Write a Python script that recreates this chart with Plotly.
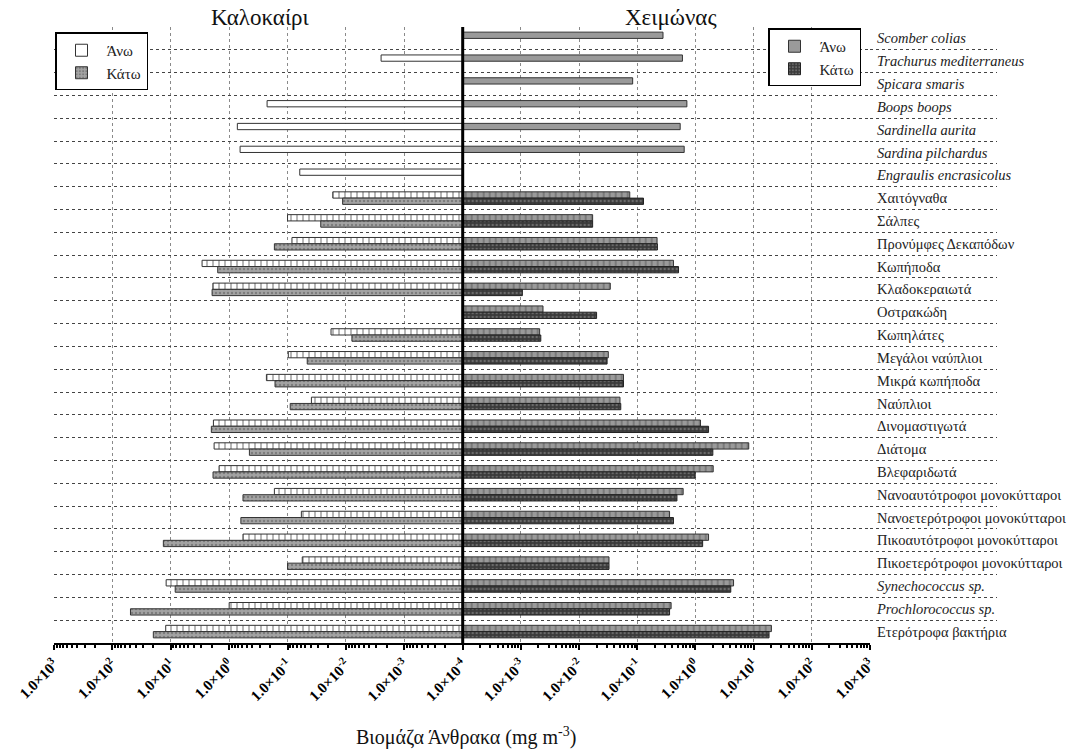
import plotly.graph_objects as go

# Categories, top to bottom
categories = [
    "Scomber colias", "Trachurus mediterraneus", "Spicara smaris", "Boops boops",
    "Sardinella aurita", "Sardina pilchardus", "Engraulis encrasicolus",
    "Χαιτόγναθα", "Σάλπες", "Προνύμφες Δεκαπόδων", "Κωπήποδα", "Κλαδοκεραιωτά",
    "Οστρακώδη", "Κωπηλάτες", "Μεγάλοι ναύπλιοι", "Μικρά κωπήποδα", "Ναύπλιοι",
    "Δινομαστιγωτά", "Διάτομα", "Βλεφαριδωτά",
    "Νανοαυτότροφοι μονοκύτταροι", "Νανοετερότροφοι μονοκύτταροι",
    "Πικοαυτότροφοι μονοκύτταροι", "Πικοετερότροφοι μονοκύτταροι",
    "Synechococcus sp.", "Prochlorococcus sp.", "Ετερότροφα βακτήρια",
]
italic_names = {
    "Scomber colias", "Trachurus mediterraneus", "Spicara smaris", "Boops boops",
    "Sardinella aurita", "Sardina pilchardus", "Engraulis encrasicolus",
    "Synechococcus sp.", "Prochlorococcus sp.",
}
fish = categories[:7]

# Carbon biomass (mg m^-3)
summer_upper = [None, 0.0025, None, 0.224, 0.724, 0.65, 0.0618,
                0.0168, 0.10, 0.084, 2.91, 1.9, None, 0.018, 0.097, 0.23, 0.039,
                1.86, 1.81, 1.49, 0.168, 0.058, 0.58, 0.056, 12.0, 1.0, 12.2]
summer_lower = [None, None, None, None, None, None, None,
                0.0114, 0.027, 0.168, 1.57, 1.96, None, 0.0079, 0.046, 0.164, 0.09,
                2.02, 0.45, 1.89, 0.58, 0.63, 13.4, 0.10, 8.4, 49.0, 19.9]
winter_upper = [0.277, 0.598, 0.0834, 0.713, 0.547, 0.641, None,
                0.0743, 0.0171, 0.219, 0.419, 0.0344, 0.0024, 0.0021, 0.0318, 0.058, 0.0505,
                1.22, 8.24, 2.02, 0.615, 0.359, 1.68, 0.0327, 4.52, 0.382, 20.2]
winter_lower = [None, None, None, None, None, None, None,
                0.128, 0.0171, 0.222, 0.512, 0.00106, 0.020, 0.0022, 0.0303, 0.058, 0.0521,
                1.68, 1.99, 0.99, 0.481, 0.419, 1.33, 0.0327, 4.05, 0.359, 18.4]

# Axis ticks
left_exponents = [3, 2, 1, 0, -1, -2, -3, -4]
right_exponents = [-3, -2, -1, 0, 1, 2, 3]


def tick_text(e):
    return "1.0×10<sup>%d</sup>" % e


tick_labels = ["<i>%s</i>" % c if c in italic_names else c for c in categories]
is_fish = [c in fish for c in categories]

SERIF = "Liberation Serif"
W, H = 1074, 755
TOP, BOTTOM = 26.5, 643.4
X_LEFT, X_MID, X_RIGHT, X_LAB = 54.0, 462.7, 870.0, 997.0


def px(v):
    return v / W


def py(v):
    return (BOTTOM - v) / (BOTTOM - TOP)


def patterns(shape):
    return ["" if f else shape for f in is_fish]


fig = go.Figure()

outline = dict(color="#333333", width=1)

fig.add_trace(go.Bar(
    y=categories, x=summer_upper, orientation="h", name="Άνω",
    xaxis="x", yaxis="y", legend="legend",
    marker=dict(color="white", line=outline,
                pattern=dict(shape=patterns("|"), fgcolor="#222222", size=6, solidity=0.22)),
))
fig.add_trace(go.Bar(
    y=categories, x=summer_lower, orientation="h", name="Κάτω",
    xaxis="x", yaxis="y", legend="legend",
    marker=dict(color="#a3a3a3", line=outline,
                pattern=dict(shape=".", fgcolor="#555555", size=4, solidity=0.3)),
))
fig.add_trace(go.Bar(
    y=categories, x=winter_upper, orientation="h", name="Άνω",
    xaxis="x2", yaxis="y", legend="legend2",
    marker=dict(color="#9a9a9a", line=outline,
                pattern=dict(shape=patterns("|"), fgcolor="#444444", size=6, solidity=0.25)),
))
fig.add_trace(go.Bar(
    y=categories, x=winter_lower, orientation="h", name="Κάτω",
    xaxis="x2", yaxis="y", legend="legend2",
    marker=dict(color="#3a3a3a", line=dict(color="#222222", width=1),
                pattern=dict(shape=".", fgcolor="#9a9a9a", size=4, solidity=0.3)),
))
# empty trace so the row grid continues under the category names
fig.add_trace(go.Scatter(x=[], y=[], xaxis="x3", yaxis="y", showlegend=False,
                         hoverinfo="skip"))

xcommon = dict(
    type="log", anchor="y", automargin=False,
    showline=True, linecolor="black", linewidth=2,
    ticks="outside", ticklen=5, tickcolor="black", tickwidth=1.5,
    tickangle=-45, tickfont=dict(family=SERIF, size=15, color="black", weight="bold"),
    showgrid=True, gridcolor="#8a8a8a", griddash="dot", gridwidth=1,
    zeroline=False, tickmode="array",
    minor=dict(ticks="outside", ticklen=3, tickcolor="black", dtick="D1", showgrid=False),
)

legend_style = dict(
    xanchor="left", yanchor="top", bgcolor="white", bordercolor="black", borderwidth=1.5,
    font=dict(family=SERIF, size=15, color="#222222"), traceorder="normal", itemwidth=40,
)

fig.update_layout(
    width=W, height=H,
    margin=dict(l=0, r=0, t=TOP, b=H - BOTTOM, autoexpand=False),
    paper_bgcolor="white", plot_bgcolor="white",
    barmode="group", bargap=0.45, bargroupgap=0.0,
    xaxis=dict(xcommon, domain=[px(X_LEFT), px(X_MID)], range=[3, -4],
               tickvals=[10.0 ** e for e in left_exponents],
               ticktext=[tick_text(e) for e in left_exponents]),
    xaxis2=dict(xcommon, domain=[px(X_MID), px(X_RIGHT)], range=[-4, 3],
                tickvals=[10.0 ** e for e in right_exponents],
                ticktext=[tick_text(e) for e in right_exponents]),
    xaxis3=dict(domain=[px(X_RIGHT), px(X_LAB)], anchor="y", range=[0, 1],
                automargin=False, showgrid=False, showticklabels=False,
                showline=False, zeroline=False),
    yaxis=dict(
        type="category", categoryorder="array", categoryarray=categories,
        autorange="reversed", anchor="free", position=px(X_RIGHT), side="right",
        automargin=False,
        tickmode="array", tickvals=categories, ticktext=tick_labels,
        tickson="boundaries", ticks="", ticklabelstandoff=6,
        showgrid=True, gridcolor="#444444", griddash="dot", gridwidth=1,
        showline=False, zeroline=False,
        tickfont=dict(family=SERIF, size=14.5, color="#222222"),
    ),
    legend=dict(legend_style, x=px(55), y=py(32)),
    legend2=dict(legend_style, x=px(768), y=py(28)),
    shapes=[dict(type="line", xref="x2 domain", x0=0, x1=0, yref="y domain", y0=0, y1=1,
                 line=dict(color="black", width=3), layer="above")],
    annotations=[
        dict(text="Καλοκαίρι", x=px(260), y=py(17), xref="paper", yref="paper",
             showarrow=False, xanchor="center", yanchor="middle",
             font=dict(family=SERIF, size=23, color="#111111")),
        dict(text="Χειμώνας", x=px(670), y=py(17), xref="paper", yref="paper",
             showarrow=False, xanchor="center", yanchor="middle",
             font=dict(family=SERIF, size=23, color="#111111")),
        dict(text="Βιομάζα Άνθρακα (mg m<sup>-3</sup>)", x=px(466), y=py(737),
             xref="paper", yref="paper", showarrow=False, xanchor="center", yanchor="middle",
             font=dict(family=SERIF, size=20, color="#111111")),
    ],
)

fig.write_html("out.html")
